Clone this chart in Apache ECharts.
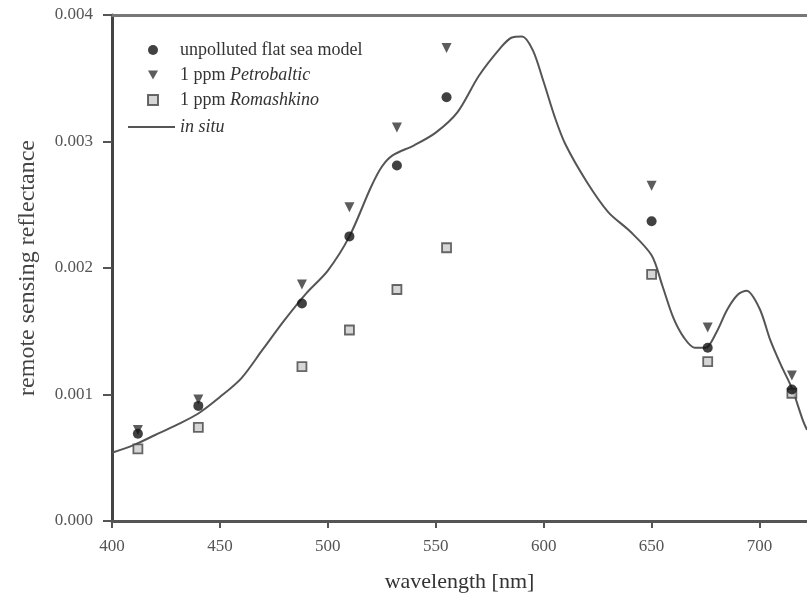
<!DOCTYPE html>
<html>
<head>
<meta charset="utf-8">
<script src="https://cdn.jsdelivr.net/npm/echarts@6/dist/echarts.min.js"></script>
<style>
	html, body { margin: 0; padding: 0; background: #fff; }
	#echart { width: 807px; height: 607px; }
</style>
</head>
<body>
<div id="echart"></div>
<script>
	// wavelengths of the model / measurement points [nm]
	var bands = [412, 440, 488, 510, 532, 555, 650, 676, 715];

	// remote sensing reflectance per band
	var unpolluted  = [0.00069, 0.00091, 0.00172, 0.00225, 0.00281, 0.00335, 0.00237, 0.00137, 0.00104];
	var petrobaltic = [0.00072, 0.00096, 0.00187, 0.00248, 0.00311, 0.00374, 0.00265, 0.00153, 0.00115];
	var romashkino  = [0.00057, 0.00074, 0.00122, 0.00151, 0.00183, 0.00216, 0.00195, 0.00126, 0.00101];

	// in situ spectrum
	var situWave = [400, 410, 420, 430, 440, 450, 460, 470, 480, 490, 500, 510, 520, 525, 530,
		540, 550, 560, 570, 580, 585, 590, 595, 600, 605, 610, 620, 630, 640, 650, 655, 660,
		665, 670, 675, 680, 685, 690, 694, 700, 705, 710, 715, 720, 722];
	var situVal = [0.00054, 0.00060, 0.00068, 0.00076, 0.00085, 0.00098, 0.00113, 0.00136, 0.00159,
		0.00180, 0.00198, 0.00225, 0.00264, 0.00280, 0.00289, 0.00297, 0.00307, 0.00323, 0.00352,
		0.00374, 0.00382, 0.00383, 0.00372, 0.00347, 0.00320, 0.00298, 0.00268, 0.00244, 0.00229,
		0.00210, 0.00186, 0.00161, 0.00145, 0.00137, 0.00137, 0.00149, 0.00167, 0.00179, 0.00182,
		0.00168, 0.00143, 0.00123, 0.00105, 0.00080, 0.00072];

	var xTicks = [400, 450, 500, 550, 600, 650, 700];
	var yTicks = [0, 0.001, 0.002, 0.003, 0.004];

	var serif = '"Liberation Serif", "DejaVu Serif", serif';
	var downTriangle = 'path://M0,0 L10,0 L5,9 Z';

	var legendText = {
		fontFamily: serif,
		fontSize: 18,
		color: '#333',
		rich: {
			i: { fontFamily: serif, fontSize: 18, fontStyle: 'italic', color: '#333' }
		}
	};

	function pairs(xs, ys) {
		var out = [];
		for (var i = 0; i < xs.length; i++) {
			out.push([xs[i], ys[i]]);
		}
		return out;
	}

	function legendName(name) {
		if (name === '1 ppm Petrobaltic') return '1 ppm {i|Petrobaltic}';
		if (name === '1 ppm Romashkino') return '1 ppm {i|Romashkino}';
		if (name === 'in situ') return '{i|in situ}';
		return name;
	}

	var myEchart = echarts.init(document.getElementById('echart'));

	var option = {
		animation: false,
		backgroundColor: '#fff',
		grid: {
			left: 112,
			right: 0,
			top: 15,
			bottom: 86
		},
		legend: [
			{
				// point symbols
				orient: 'vertical',
				left: 142,
				top: 36,
				itemWidth: 10,
				itemHeight: 10,
				itemGap: 7,
				textStyle: echarts.util.extend({ padding: [0, 0, 0, 17] }, legendText),
				formatter: legendName,
				data: [
					{ name: 'unpolluted flat sea model', icon: 'circle' },
					{ name: '1 ppm Petrobaltic', icon: downTriangle },
					{ name: '1 ppm Romashkino', icon: 'rect' }
				]
			},
			{
				// line symbol
				orient: 'vertical',
				left: 123,
				top: 113,
				itemWidth: 47,
				itemHeight: 2,
				textStyle: legendText,
				formatter: legendName,
				data: [{ name: 'in situ', icon: 'rect' }]
			}
		],
		xAxis: [
			{
				type: 'value',
				min: xTicks[0],
				max: 722,
				interval: 50,
				name: 'wavelength [nm]',
				nameLocation: 'middle',
				nameGap: 50,
				nameTextStyle: { fontFamily: serif, fontSize: 22, color: '#333' },
				axisLine: { lineStyle: { color: '#555', width: 3 } },
				axisTick: { inside: false, length: 7, lineStyle: { color: '#555', width: 2 } },
				axisLabel: {
					margin: 17,
					showMaxLabel: false,
					fontFamily: serif,
					fontSize: 17,
					color: '#555'
				},
				splitLine: { show: false }
			},
			{
				type: 'value',
				position: 'top',
				min: xTicks[0],
				max: 722,
				axisLine: { onZero: false, lineStyle: { color: '#777', width: 3 } },
				axisTick: { show: false },
				axisLabel: { show: false },
				splitLine: { show: false }
			}
		],
		yAxis: {
			type: 'value',
			min: yTicks[0],
			max: yTicks[yTicks.length - 1],
			interval: 0.001,
			name: 'remote sensing reflectance',
			nameLocation: 'middle',
			nameGap: 72,
			nameTextStyle: { fontFamily: serif, fontSize: 24, color: '#444' },
			axisLine: { show: true, lineStyle: { color: '#444', width: 3 } },
			axisTick: { show: true, inside: false, length: 9, lineStyle: { color: '#555', width: 2 } },
			axisLabel: {
				margin: 19,
				fontFamily: serif,
				fontSize: 17,
				color: '#555',
				formatter: function (v) { return v.toFixed(3); }
			},
			splitLine: { show: false }
		},
		series: [
			{
				name: 'unpolluted flat sea model',
				type: 'scatter',
				symbol: 'circle',
				symbolSize: 10,
				itemStyle: { color: '#111' },
				data: pairs(bands, unpolluted),
				z: 4
			},
			{
				name: '1 ppm Petrobaltic',
				type: 'scatter',
				symbol: downTriangle,
				symbolSize: 10,
				itemStyle: { color: '#333' },
				data: pairs(bands, petrobaltic),
				z: 3
			},
			{
				name: '1 ppm Romashkino',
				type: 'scatter',
				symbol: 'rect',
				symbolSize: 9,
				itemStyle: { color: '#ccc', borderColor: '#444', borderWidth: 1.8 },
				data: pairs(bands, romashkino),
				z: 3
			},
			{
				name: 'in situ',
				type: 'line',
				symbol: 'none',
				smooth: 0.3,
				lineStyle: { color: '#555', width: 2 },
				itemStyle: { color: '#555' },
				data: pairs(situWave, situVal),
				z: 2
			}
		]
	};

	myEchart.setOption(option);
</script>
</body>
</html>
